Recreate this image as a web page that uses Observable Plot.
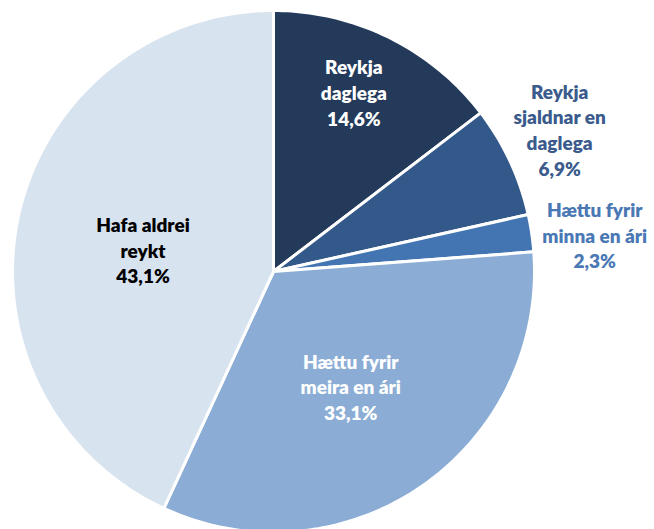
<!DOCTYPE html>
<html>
<head>
<meta charset="utf-8">
<script src="https://cdn.jsdelivr.net/npm/d3@7"></script>
<script src="https://cdn.jsdelivr.net/npm/@observablehq/plot@0.6"></script>
<style>
  html, body { margin: 0; padding: 0; background: #fff; overflow: hidden; }
  #chart svg { display: block; }
</style>
</head>
<body>
<div id="chart"></div>
<script>
// Data
const categories = [
  "Reykja daglega",
  "Reykja sjaldnar en daglega",
  "Hættu fyrir minna en ári",
  "Hættu fyrir meira en ári",
  "Hafa aldrei reykt"
];
const labelTexts = [
  "Reykja\ndaglega",
  "Reykja\nsjaldnar en\ndaglega",
  "Hættu fyrir\nminna en ári",
  "Hættu fyrir\nmeira en ári",
  "Hafa aldrei\nreykt"
];
const values = [14.6, 6.9, 2.3, 33.1, 43.1];
const valueLabels = ["14,6%", "6,9%", "2,3%", "33,1%", "43,1%"];

// Styles / layout (not data)
const sliceColors = ["#243a5b", "#33588a", "#4275b2", "#8badd5", "#d7e3ef"];
const labelColors = ["#ffffff", "#3b5b8c", "#4a78b5", "#ffffff", "#000000"];
const labelPolar = [[24.1, 0.754], [63.5, 1.225], [83.4, 1.239], [146, 0.529], [279.6, 0.507]];

// Build slice polygons (unit circle, angle clockwise from top)
const total = d3.sum(values);
const polys = [];
let acc = 0;
values.forEach((v, i) => {
  const a0 = acc / total * 2 * Math.PI;
  acc += v;
  const a1 = acc / total * 2 * Math.PI;
  const n = Math.max(4, Math.ceil((a1 - a0) / (Math.PI / 180)));
  polys.push({cat: categories[i], x: 0, y: 0});
  for (let k = 0; k <= n; k++) {
    const a = a0 + (a1 - a0) * k / n;
    polys.push({cat: categories[i], x: Math.sin(a), y: Math.cos(a)});
  }
  polys.push({cat: categories[i], x: 0, y: 0});
});

const labels = categories.map((c, i) => {
  const [deg, r] = labelPolar[i];
  const a = deg * Math.PI / 180;
  return {
    cat: c,
    text: labelTexts[i] + "\n" + valueLabels[i],
    x: r * Math.sin(a),
    y: r * Math.cos(a),
    color: labelColors[i]
  };
});

const R = 261, cx = 273, cy = 271;
const chart = Plot.plot({
  width: 654,
  height: 529,
  margin: 0,
  style: {background: "#fff", overflow: "hidden"},
  x: {domain: [-1, 1], range: [cx - R, cx + R], axis: null},
  y: {domain: [-1, 1], range: [cy + R, cy - R], axis: null},
  color: {domain: categories, range: sliceColors},
  marks: [
    Plot.line(polys, {
      x: "x", y: "y", z: "cat", fill: "cat",
      stroke: "#ffffff", strokeWidth: 3, strokeLinejoin: "round"
    }),
    Plot.text(labels, {
      x: "x", y: "y", text: "text",
      fill: d => d.color,
      fontFamily: "Lato, 'Open Sans', sans-serif",
      fontWeight: 800,
      fontSize: 19,
      lineHeight: 1.35,
      textAnchor: "middle"
    })
  ]
});
document.getElementById("chart").appendChild(chart);
</script>
</body>
</html>
